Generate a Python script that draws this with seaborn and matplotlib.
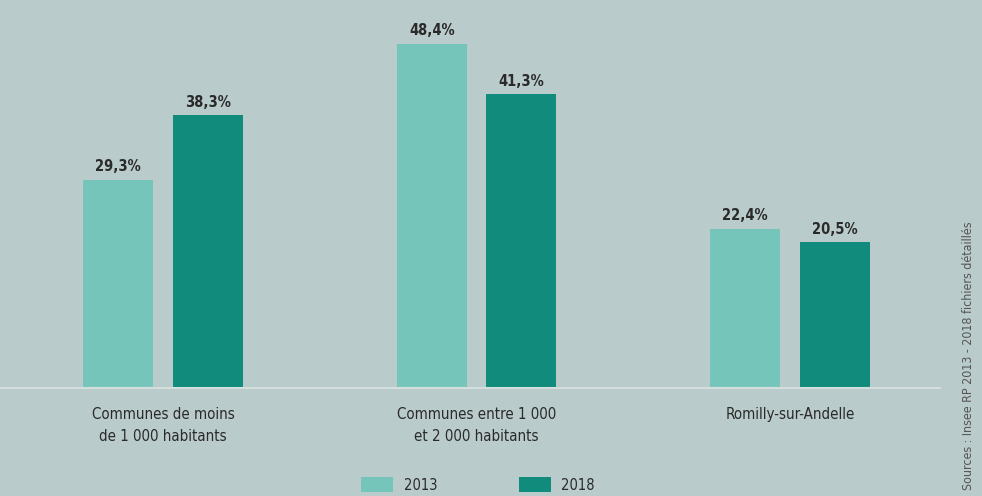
import matplotlib
matplotlib.use("Agg")
import matplotlib.pyplot as plt
import seaborn as sns
import pandas as pd
from matplotlib.patches import Patch

categories = ["Communes de moins\nde 1 000 habitants",
              "Communes entre 1 000\net 2 000 habitants",
              "Romilly-sur-Andelle"]
years = ["2013", "2018"]
values_2013 = [29.3, 48.4, 22.4]
values_2018 = [38.3, 41.3, 20.5]
source_text = "Sources : Insee RP 2013 - 2018 fichiers détaillés"

bg = "#b9cbca"
colors = {"2013": "#76c5ba", "2018": "#108b7c"}
txt = "#2a2a2a"

df = pd.DataFrame({
    "cat": categories * 2,
    "year": ["2013"] * 3 + ["2018"] * 3,
    "val": values_2013 + values_2018,
})

sns.set_theme(style="white")
plt.rcParams["font.family"] = ["DejaVu Sans"]
plt.rcParams["font.stretch"] = "condensed"

fig = plt.figure(figsize=(9.82, 4.96), dpi=100, facecolor=bg)
W, H = 982, 496
left_px, right_px = 0, 940
bottom_px = 388
ax = fig.add_axes([left_px / W, (H - bottom_px) / H, (right_px - left_px) / W, 370 / H])
ax.set_facecolor(bg)

sns.barplot(data=df, x="cat", y="val", hue="year", order=categories,
            hue_order=years, palette=colors, width=0.571, gap=0.22,
            saturation=1, ax=ax, legend=False, edgecolor="none")

unit = 313.5
ax.set_xlim(-163 / unit, (right_px - 163) / unit)
ax.set_ylim(0, 52)

for cont in ax.containers:
    labels = [f"{v:.1f}".replace(".", ",") + "%" for v in cont.datavalues]
    ax.bar_label(cont, labels=labels, padding=4, fontsize=10.5,
                 fontweight="bold", fontstretch="condensed", color=txt)

for s in ["top", "right", "left"]:
    ax.spines[s].set_visible(False)
ax.spines["bottom"].set_color("#d3dfde")
ax.spines["bottom"].set_linewidth(1.5)
ax.set_yticks([])
ax.set_xlabel("")
ax.set_ylabel("")
ax.tick_params(axis="x", length=0, pad=14, labelsize=10.8, labelcolor=txt)
for lab in ax.get_xticklabels():
    lab.set_linespacing(1.55)
    lab.set_fontstretch("condensed")

handles = [Patch(facecolor=colors[y], edgecolor="none", label=y) for y in years]
fig.legend(handles=handles, loc="center", bbox_to_anchor=(478 / W, 1 - 485 / H),
           ncol=2, frameon=False, handlelength=2.2, handleheight=1.2,
           columnspacing=5.6, handletextpad=0.7, labelcolor=txt,
           prop={"size": 10.5, "stretch": "condensed"})

fig.text(968 / W, 1 - 356 / H, source_text, rotation=90, ha="center", va="center",
         fontsize=8.9, color="#555555", fontstretch="condensed")

fig.savefig("out.png", dpi=100, facecolor=bg)
